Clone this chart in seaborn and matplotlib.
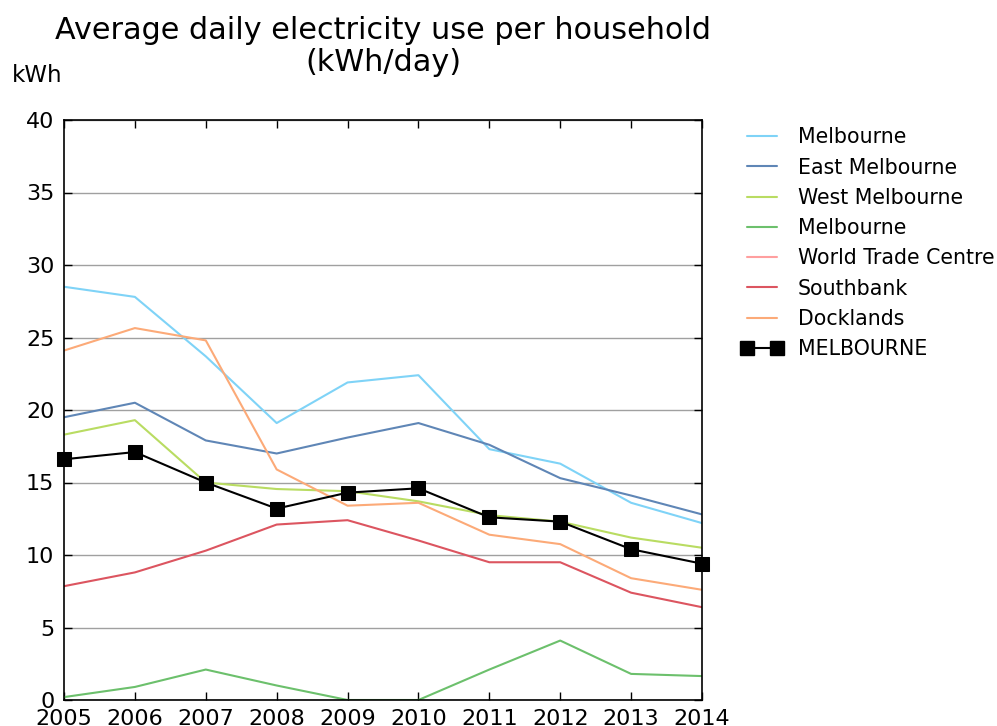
import numpy as np
import pandas as pd
import matplotlib
matplotlib.use("Agg")
import matplotlib.pyplot as plt
import seaborn as sns
from matplotlib.lines import Line2D

years = [2005, 2006, 2007, 2008, 2009, 2010, 2011, 2012, 2013, 2014]

melbourne_a = [28.5, 27.8, 23.7, 19.1, 21.9, 22.4, 17.3, 16.3, 13.6, 12.2]
east_melbourne = [19.5, 20.5, 17.9, 17.0, 18.1, 19.1, 17.6, 15.3, 14.1, 12.8]
west_melbourne = [18.3, 19.3, 15.0, 14.55, 14.4, 13.7, 12.75, 12.3, 11.2, 10.5]
melbourne_b = [0.2, 0.9, 2.1, 1.0, 0.0, 0.0, 2.1, 4.1, 1.8, 1.65]
world_trade_centre = [np.nan] * 10
southbank = [7.85, 8.8, 10.3, 12.1, 12.4, 11.0, 9.5, 9.5, 7.4, 6.4]
docklands = [24.1, 25.65, 24.8, 15.9, 13.4, 13.6, 11.4, 10.75, 8.4, 7.6]
melbourne_total = [16.6, 17.1, 15.0, 13.2, 14.3, 14.6, 12.6, 12.3, 10.4, 9.4]

series_names = ["Melbourne", "East Melbourne", "West Melbourne", "Melbourne",
                "World Trade Centre", "Southbank", "Docklands"]
series_values = [melbourne_a, east_melbourne, west_melbourne, melbourne_b,
                 world_trade_centre, southbank, docklands]
series_colors = ["#7fd3f7", "#5f86b6", "#b9dc62", "#6cc06c", "#ff9f9f",
                 "#dc5560", "#fcaa78"]
total_name = "MELBOURNE"

sns.set_style("white")
plt.rcParams['font.family'] = ['DejaVu Sans']
plt.rcParams['text.color'] = 'black'

fig = plt.figure(figsize=(9.97, 7.26), dpi=100)
ax = fig.add_axes([64/997, 26/726, (702-64)/997, (700-120)/726])

handles = []
for name, vals, col in zip(series_names, series_values, series_colors):
    df = pd.DataFrame({"year": years, "value": vals}).dropna()
    if len(df):
        sns.lineplot(data=df, x="year", y="value", ax=ax, color=col,
                     linewidth=1.5, legend=False)
    handles.append(Line2D([], [], color=col, linewidth=1.5, label=name))

dft = pd.DataFrame({"year": years, "value": melbourne_total})
sns.lineplot(data=dft, x="year", y="value", ax=ax, color="black", linewidth=1.5,
             marker="s", markersize=9.5, markeredgecolor="black", legend=False,
             zorder=5, clip_on=False)
handles.append(Line2D([], [], color="black", linewidth=1.5, marker="s",
                      markersize=9.5, label=total_name))

ax.set_xlim(2005, 2014)
ax.set_ylim(0, 40)
ax.set_xticks(years)
ax.set_xticklabels([str(y) for y in years])
ax.set_yticks(range(0, 41, 5))
ax.set_xlabel("")
ax.set_ylabel("")
ax.yaxis.grid(True, color="#a0a0a0", linewidth=1)
ax.xaxis.grid(False)
ax.set_axisbelow(True)
for s in ax.spines.values():
    s.set_color("black")
    s.set_linewidth(1.2)
ax.tick_params(axis="both", direction="in", length=6, width=1, colors="black",
               labelsize=16, top=True, right=True, bottom=True, left=True)
ax.tick_params(axis="x", pad=6.5)
ax.tick_params(axis="y", pad=7)

ax.set_title("Average daily electricity use per household\n(kWh/day)",
             fontsize=21.8, pad=35, linespacing=1.13, color="black")
fig.text(12/997, 1 - 76/726, "kWh", fontsize=16.5, va="center", ha="left",
         color="black")

fig.legend(handles=handles, loc="upper left", bbox_to_anchor=(733/997, 1 - 119/726),
           frameon=False, fontsize=14.8, handlelength=2.06, labelspacing=0.5,
           handletextpad=0.68, borderaxespad=0, numpoints=2)

fig.savefig("out.png", dpi=100)
